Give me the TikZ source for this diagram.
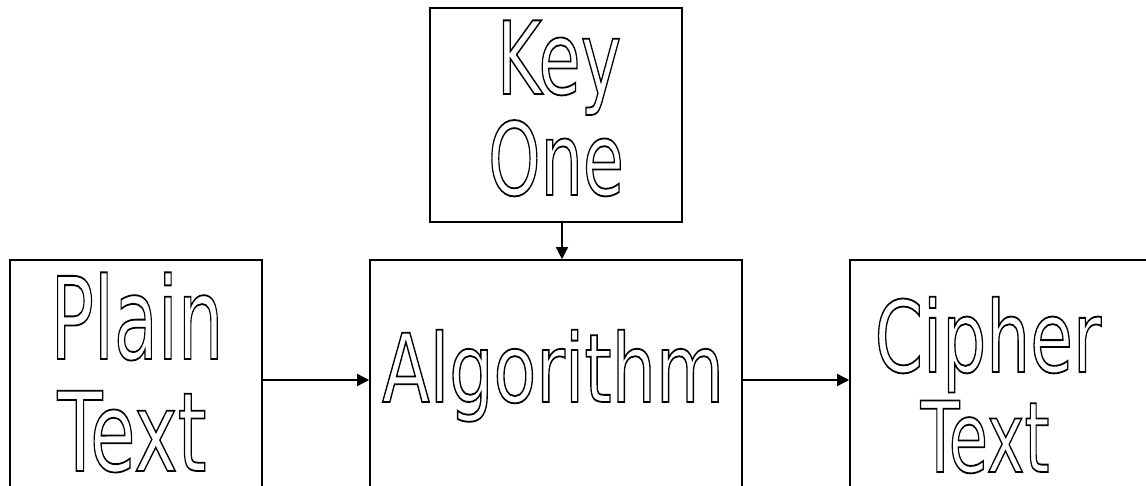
\documentclass[tikz,border=0pt]{standalone}
\usepackage{fontspec}
\setmainfont{DejaVu Sans}
\usetikzlibrary{arrows.meta}
\newcommand{\outlinetext}[2]{\scalebox{#1}[1]{\special{pdf:code 1 Tr 1.8 w}#2\special{pdf:code 0 Tr}}}
\tikzset{
  box/.style={draw=black, line width=1.6pt, rectangle, inner sep=0pt, fill=none},
  arr/.style={line width=1.5pt, -{Triangle[length=12pt,width=12pt]}},
  lbl/.style={anchor=base, inner sep=0pt, outer sep=0pt, text depth=0pt},
}
\begin{document}
\begin{tikzpicture}[x=1pt, y=-1pt]
\useasboundingbox (0,0) rectangle (1146,486);
\clip (0,0) rectangle (1146,486);
\fill[white] (0,0) rectangle (1146,486);
% boxes
\node[box, minimum width=252pt, minimum height=214pt] (key) at (556,115) {};
\node[box, minimum width=252pt, minimum height=300pt] (plain) at (136,410) {};
\node[box, minimum width=372pt, minimum height=300pt] (algo) at (556,410) {};
\node[box, minimum width=372pt, minimum height=300pt] (cipher) at (1036,410) {};
% helper coordinates
\coordinate (kx) at (562,0);
\coordinate (my) at (0,380);
% arrows
\draw[arr] (key.south -| kx) -- (algo.north -| kx);
\draw[arr] (plain.east |- my) -- (algo.west |- my);
\draw[arr] (algo.east |- my) -- (cipher.west |- my);
% texts
\node[lbl, font=\fontsize{101}{101}\selectfont] (key1) at (559,94) {\outlinetext{0.68}{Key}};
\node[lbl, font=\fontsize{101}{101}\selectfont] (key2) at (556,195) {\outlinetext{0.66}{One}};
\node[lbl, font=\fontsize{114}{114}\selectfont] (plain1) at (137,359) {\outlinetext{0.63}{Plain}};
\node[lbl, font=\fontsize{110}{110}\selectfont] (plain2) at (132,471) {\outlinetext{0.67}{Text}};
\node[lbl, font=\fontsize{95}{95}\selectfont] (algo1) at (553,402) {\outlinetext{0.735}{Algorithm}};
\node[lbl, font=\fontsize{99}{99}\selectfont] (cipher1) at (988,372) {\outlinetext{0.70}{Cipher}};
\node[lbl, font=\fontsize{98}{98}\selectfont] (cipher2) at (985,472) {\outlinetext{0.65}{Text}};
\end{tikzpicture}
\end{document}
